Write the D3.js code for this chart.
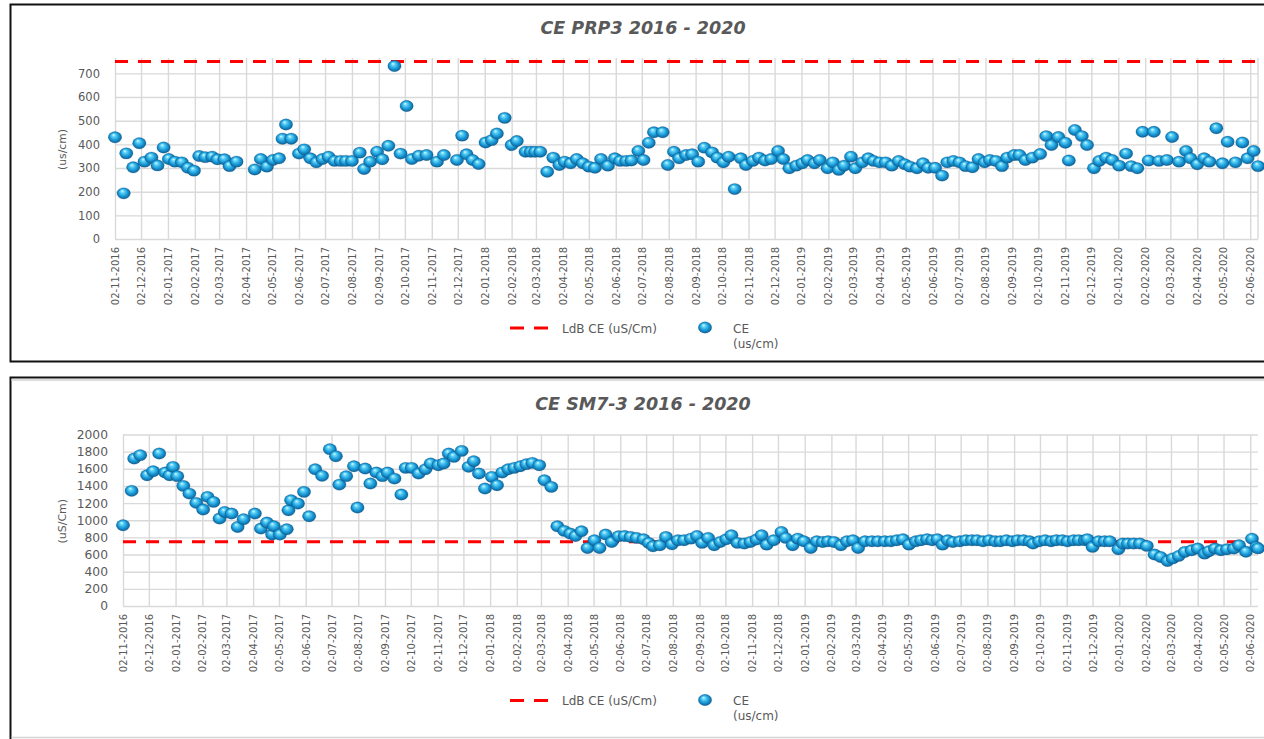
<!DOCTYPE html>
<html>
<head>
<meta charset="utf-8">
<script src="https://cdn.jsdelivr.net/npm/d3@7"></script>
<style>
  html, body { margin: 0; padding: 0; background: #fff; }
  svg { display: block; font-family: "DejaVu Sans", sans-serif; }
</style>
</head>
<body>
<div id="chart"></div>
<script>
// --- data ---
const ldbValue = 750; // LdB CE (uS/Cm)

const prpDates = [
  "2016-11-02","2016-11-12","2016-11-15","2016-11-23","2016-11-30",
  "2016-12-06","2016-12-14","2016-12-21","2016-12-28",
  "2017-01-03","2017-01-10","2017-01-18","2017-01-25",
  "2017-02-01","2017-02-07","2017-02-14","2017-02-22","2017-02-28",
  "2017-03-08","2017-03-14","2017-03-22",
  "2017-04-12","2017-04-19","2017-04-26",
  "2017-05-03","2017-05-10","2017-05-14","2017-05-18","2017-05-24",
  "2017-06-02","2017-06-08","2017-06-15","2017-06-22","2017-06-29",
  "2017-07-06","2017-07-13","2017-07-20","2017-07-26",
  "2017-08-02","2017-08-11","2017-08-16","2017-08-23","2017-08-31",
  "2017-09-06","2017-09-13","2017-09-20","2017-09-27",
  "2017-10-04","2017-10-10","2017-10-18","2017-10-27",
  "2017-11-08","2017-11-16",
  "2017-12-01","2017-12-07","2017-12-12","2017-12-19","2017-12-26",
  "2018-01-03","2018-01-10","2018-01-16","2018-01-25",
  "2018-02-02","2018-02-08","2018-02-18","2018-02-24",
  "2018-03-01","2018-03-07","2018-03-15","2018-03-22","2018-03-29",
  "2018-04-04","2018-04-11","2018-04-18","2018-04-25",
  "2018-05-02","2018-05-09","2018-05-16","2018-05-24",
  "2018-06-01","2018-06-07","2018-06-14","2018-06-20","2018-06-28",
  "2018-07-04","2018-07-10","2018-07-16","2018-07-26",
  "2018-08-01","2018-08-08","2018-08-14","2018-08-22","2018-08-29",
  "2018-09-05","2018-09-12","2018-09-21","2018-09-27",
  "2018-10-04","2018-10-10","2018-10-17","2018-10-24","2018-10-30",
  "2018-11-07","2018-11-14","2018-11-21","2018-11-28",
  "2018-12-06","2018-12-12","2018-12-19","2018-12-27",
  "2019-01-03","2019-01-09","2019-01-17","2019-01-23",
  "2019-02-01","2019-02-07","2019-02-14","2019-02-20","2019-02-28",
  "2019-03-05","2019-03-13","2019-03-20","2019-03-26",
  "2019-04-02","2019-04-09","2019-04-16","2019-04-24",
  "2019-05-01","2019-05-07","2019-05-15","2019-05-22","2019-05-28",
  "2019-06-05","2019-06-13","2019-06-19","2019-06-26",
  "2019-07-03","2019-07-10","2019-07-18","2019-07-25",
  "2019-08-01","2019-08-07","2019-08-14","2019-08-21","2019-08-27",
  "2019-09-04","2019-09-10","2019-09-17","2019-09-25",
  "2019-10-04","2019-10-11","2019-10-17","2019-10-25",
  "2019-11-02","2019-11-06","2019-11-13","2019-11-21","2019-11-27",
  "2019-12-05","2019-12-11","2019-12-19","2019-12-26",
  "2020-01-03","2020-01-11","2020-01-17","2020-01-24","2020-01-30",
  "2020-02-06","2020-02-12","2020-02-18","2020-02-27",
  "2020-03-04","2020-03-12","2020-03-20","2020-03-25",
  "2020-04-02","2020-04-10","2020-04-16","2020-04-24",
  "2020-05-01","2020-05-07","2020-05-16","2020-05-24","2020-05-30",
  "2020-06-06","2020-06-11"
];
const prpValues = [
  430,193,362,303,405,
  327,344,311,387,
  338,327,324,301,
  289,351,346,348,337,
  337,308,327,
  294,338,306,
  334,341,424,484,424,
  361,379,341,324,338,
  348,330,330,330,
  330,365,296,327,369,
  337,394,731,361,
  562,338,352,355,
  327,355,
  334,437,358,334,317,
  408,418,446,512,
  397,414,369,369,
  369,369,284,344,313,
  327,320,338,320,
  306,301,338,310,
  341,330,330,332,372,
  334,407,451,451,
  313,369,341,355,358,
  327,386,366,344,
  324,348,211,341,313,
  330,344,332,338,
  372,338,299,310,
  320,334,320,334,
  299,324,292,310,348,
  299,324,341,330,
  324,324,310,330,
  316,306,299,320,301,
  301,268,324,330,
  324,308,303,338,
  324,334,330,308,344,
  355,355,334,344,
  359,435,397,431,
  407,332,461,435,397,
  299,330,344,334,
  310,361,308,299,453,
  332,453,330,334,
  431,327,372,341,
  316,341,327,468,
  320,411,324,408,341,
  372,308
];

const smDates = [
  "2016-11-02","2016-11-12","2016-11-15","2016-11-22","2016-11-30",
  "2016-12-07","2016-12-14","2016-12-21","2016-12-26","2016-12-30",
  "2017-01-04","2017-01-11","2017-01-18","2017-01-26",
  "2017-02-03","2017-02-08","2017-02-15","2017-02-22","2017-02-28",
  "2017-03-08","2017-03-15","2017-03-22",
  "2017-04-04","2017-04-11","2017-04-18","2017-04-24","2017-04-26",
  "2017-05-03","2017-05-11","2017-05-13","2017-05-16","2017-05-24","2017-05-31",
  "2017-06-06","2017-06-13","2017-06-21","2017-06-30",
  "2017-07-07","2017-07-11","2017-07-19","2017-07-28",
  "2017-08-01","2017-08-10","2017-08-16","2017-08-23","2017-08-30",
  "2017-09-05","2017-09-13","2017-09-21","2017-09-26",
  "2017-10-03","2017-10-11","2017-10-19","2017-10-25",
  "2017-11-03","2017-11-09","2017-11-15","2017-11-21","2017-11-30",
  "2017-12-08","2017-12-14","2017-12-20","2017-12-27",
  "2018-01-04","2018-01-10","2018-01-16","2018-01-23","2018-01-30",
  "2018-02-06","2018-02-13","2018-02-20","2018-02-28",
  "2018-03-06","2018-03-14","2018-03-21","2018-03-29",
  "2018-04-05","2018-04-11","2018-04-18","2018-04-25",
  "2018-05-03","2018-05-09","2018-05-16","2018-05-23","2018-05-31",
  "2018-06-07","2018-06-14","2018-06-21","2018-06-29",
  "2018-07-05","2018-07-10","2018-07-18","2018-07-25",
  "2018-08-01","2018-08-08","2018-08-15","2018-08-23","2018-08-30",
  "2018-09-05","2018-09-12","2018-09-19","2018-09-26",
  "2018-10-03","2018-10-09","2018-10-16","2018-10-24","2018-10-31",
  "2018-11-07","2018-11-13","2018-11-19","2018-11-27",
  "2018-12-06","2018-12-11","2018-12-19","2018-12-25",
  "2019-01-01","2019-01-09","2019-01-16","2019-01-23","2019-01-29",
  "2019-02-05","2019-02-13","2019-02-20","2019-02-27",
  "2019-03-05","2019-03-13","2019-03-21","2019-03-28",
  "2019-04-05","2019-04-12","2019-04-19","2019-04-26",
  "2019-05-03","2019-05-11","2019-05-17","2019-05-24","2019-05-30",
  "2019-06-05","2019-06-11","2019-06-17","2019-06-23",
  "2019-07-01","2019-07-08","2019-07-15","2019-07-21","2019-07-28",
  "2019-08-04","2019-08-11","2019-08-17","2019-08-24","2019-08-31",
  "2019-09-06","2019-09-13","2019-09-20","2019-09-24",
  "2019-10-01","2019-10-08","2019-10-15","2019-10-21","2019-10-28",
  "2019-11-03","2019-11-10","2019-11-16","2019-11-23","2019-11-26",
  "2019-12-02","2019-12-09","2019-12-16","2019-12-22",
  "2020-01-01","2020-01-06","2020-01-12","2020-01-19","2020-01-26",
  "2020-02-03","2020-02-12","2020-02-19","2020-02-27",
  "2020-03-04","2020-03-11","2020-03-18","2020-03-26",
  "2020-04-02","2020-04-10","2020-04-15","2020-04-22","2020-04-29",
  "2020-05-06","2020-05-14","2020-05-20","2020-05-28",
  "2020-06-04","2020-06-09","2020-06-11"
];
const smValues = [
  942,1343,1720,1759,1525,
  1572,1778,1557,1525,1623,
  1514,1401,1311,1203,
  1125,1273,1214,1020,1097,
  1078,922,1012,
  1078,903,973,833,930,
  833,895,1117,1234,1195,1331,
  1047,1595,1518,1829,
  1747,1416,1514,1630,
  1148,1603,1428,1557,1514,
  1557,1486,1300,1611,
  1611,1545,1595,1662,
  1642,1662,1778,1739,1809,
  1623,1689,1545,1370,
  1506,1409,1557,1595,1611,
  1630,1654,1669,1642,
  1467,1389,930,876,
  845,817,872,677,
  767,677,833,747,814,
  817,806,794,779,
  736,697,709,806,
  720,767,767,786,817,
  736,794,709,747,
  779,825,736,728,747,
  775,825,716,767,
  864,794,709,786,
  755,677,755,747,755,
  747,709,755,767,
  677,755,755,755,
  755,755,767,779,
  716,755,767,779,767,
  779,716,767,747,
  755,767,767,767,755,
  767,755,755,767,755,
  767,767,755,728,
  755,767,755,767,767,
  755,767,767,767,779,
  689,755,755,755,
  662,728,728,728,728,
  701,600,572,525,
  555,584,631,650,
  670,611,639,670,650,
  662,670,709,632,
  785,689,672
];

const prpTicks = [0, 100, 200, 300, 400, 500, 600, 700];
const smTicks = [0, 200, 400, 600, 800, 1000, 1200, 1400, 1600, 1800, 2000];

const parse = d3.timeParse("%Y-%m-%d");
const fmt = d3.timeFormat("%d-%m-%Y");
const xStart = new Date(2016, 10, 2), xEnd = new Date(2020, 5, 11);
// month ticks on the 2nd, like the source axis
const monthTicks = d3.range(0, 44).map(i => new Date(2016, 10 + i, 2));

const width = 1264, height = 739;
const grid = "#d9d9d9", textCol = "#595959", red = "#ff0000";

const svg = d3.select("#chart").append("svg")
  .attr("width", width).attr("height", height)
  .attr("viewBox", [0, 0, width, height]);

const grad = svg.append("defs").append("radialGradient")
  .attr("id", "ball").attr("cx", "50%").attr("cy", "50%").attr("r", "55%")
  .attr("fx", "38%").attr("fy", "28%");
[[0, "#d9fbff"], [0.25, "#5ed2f7"], [0.6, "#1b9bd8"], [0.88, "#0e6aa3"], [1, "#0a4b75"]]
  .forEach(([o, c]) => grad.append("stop").attr("offset", o).attr("stop-color", c));

const panels = [
  { title: "CE PRP3 2016 - 2020", yTitle: "(us/cm)", dates: prpDates, values: prpValues,
    ticks: prpTicks, yMax: 765, left: 115, right: 1258, top: 58, bottom: 239,
    titleY: 34, legendY: 328, rightLine: true, tickFont: 11.5, yTitleFont: 10.8 },
  { title: "CE SM7-3 2016 - 2020", yTitle: "(uS/Cm)", dates: smDates, values: smValues,
    ticks: smTicks, yMax: 2000, left: 123, right: 1258, top: 434.5, bottom: 606,
    titleY: 410, legendY: 700.5, rightLine: false, tickFont: 12.3, yTitleFont: 11 }
];

// frames
const frame = svg.append("g").attr("fill", "none");
frame.append("path").attr("stroke", "#111").attr("stroke-width", 2)
  .attr("d", "M1266,4.5H10.5V361.5H1266");
frame.append("path").attr("stroke", "#111").attr("stroke-width", 2)
  .attr("d", "M1266,377.5H10.5V740");
frame.append("line").attr("stroke", "#dcdcdc").attr("stroke-width", 2)
  .attr("x1", 11.5).attr("x2", 1266).attr("y1", 380).attr("y2", 380);
frame.append("line").attr("stroke", "#d4d4d4").attr("stroke-width", 1.5)
  .attr("x1", 11.5).attr("x2", 1266).attr("y1", 737.5).attr("y2", 737.5);

function ball(sel) {
  return sel.attr("rx", 6.7).attr("ry", 5.7).attr("fill", "url(#ball)")
    .attr("stroke", "#0b4f7a").attr("stroke-opacity", 0.35).attr("stroke-width", 0.6);
}

panels.forEach(p => {
  const g = svg.append("g");
  const x = d3.scaleTime().domain([xStart, xEnd]).range([p.left, p.right]);
  const y = d3.scaleLinear().domain([0, p.yMax]).range([p.bottom, p.top]);

  // y axis + horizontal grid
  g.append("g").attr("transform", `translate(${p.left},0)`)
    .call(d3.axisLeft(y).tickValues(p.ticks).tickFormat(d3.format("d"))
      .tickSize(-(p.right - p.left)).tickPadding(15))
    .call(a => a.select(".domain").remove())
    .call(a => a.selectAll(".tick line").attr("stroke", grid).attr("stroke-width", 1.4))
    .call(a => a.selectAll(".tick text").attr("fill", textCol)
      .attr("font-size", p.tickFont).attr("font-family", "DejaVu Sans, sans-serif"));

  // x axis + vertical grid
  g.append("g").attr("transform", `translate(0,${p.bottom})`)
    .call(d3.axisBottom(x).tickValues(monthTicks).tickFormat(fmt)
      .tickSize(-(p.bottom - p.top)).tickSizeOuter(0))
    .call(a => a.select(".domain").remove())
    .call(a => a.selectAll(".tick line").attr("stroke", grid).attr("stroke-width", 1.4))
    .call(a => a.selectAll(".tick text").attr("fill", textCol)
      .attr("font-size", 10).attr("font-family", "DejaVu Sans, sans-serif")
      .attr("transform", "rotate(-90)").attr("text-anchor", "end")
      .attr("x", -8).attr("y", 0).attr("dy", "0.35em"));

  if (p.rightLine)
    g.append("line").attr("stroke", grid).attr("stroke-width", 1.4)
      .attr("x1", p.right).attr("x2", p.right).attr("y1", p.top).attr("y2", p.bottom);

  // LdB limit line
  g.append("line")
    .attr("x1", x(xStart)).attr("x2", x(xEnd))
    .attr("y1", y(ldbValue)).attr("y2", y(ldbValue))
    .attr("stroke", red).attr("stroke-width", 3).attr("stroke-dasharray", "13,10");

  // CE points
  g.append("g").selectAll("ellipse")
    .data(p.dates.map((d, i) => ({ date: parse(d), value: p.values[i] })))
    .join("ellipse")
    .attr("cx", d => x(d.date)).attr("cy", d => y(d.value))
    .call(ball);

  // title
  g.append("text").attr("x", 643).attr("y", p.titleY).attr("text-anchor", "middle")
    .attr("font-size", 17.5).attr("font-weight", "bold").attr("font-style", "italic")
    .attr("fill", textCol).text(p.title);

  // y title
  g.append("text").attr("transform", `translate(62,${(p.top + p.bottom) / 2 + 1}) rotate(-90)`)
    .attr("text-anchor", "middle").attr("dy", "0.35em")
    .attr("font-size", p.yTitleFont).attr("fill", textCol).text(p.yTitle);

  // legend
  const lg = g.append("g").attr("transform", `translate(0,${p.legendY})`);
  lg.append("line").attr("x1", 510).attr("x2", 548)
    .attr("stroke", red).attr("stroke-width", 3).attr("stroke-dasharray", "14,10");
  lg.append("text").attr("x", 562).attr("y", 4.5).attr("font-size", 12)
    .attr("fill", textCol).text("LdB CE (uS/Cm)");
  lg.append("ellipse").attr("cx", 705).attr("cy", -0.5).call(ball);
  lg.append("text").attr("x", 733).attr("y", 4.5).attr("font-size", 12)
    .attr("fill", textCol).text("CE");
  lg.append("text").attr("x", 733).attr("y", 19.5).attr("font-size", 12)
    .attr("fill", textCol).text("(us/cm)");
});
</script>
</body>
</html>
